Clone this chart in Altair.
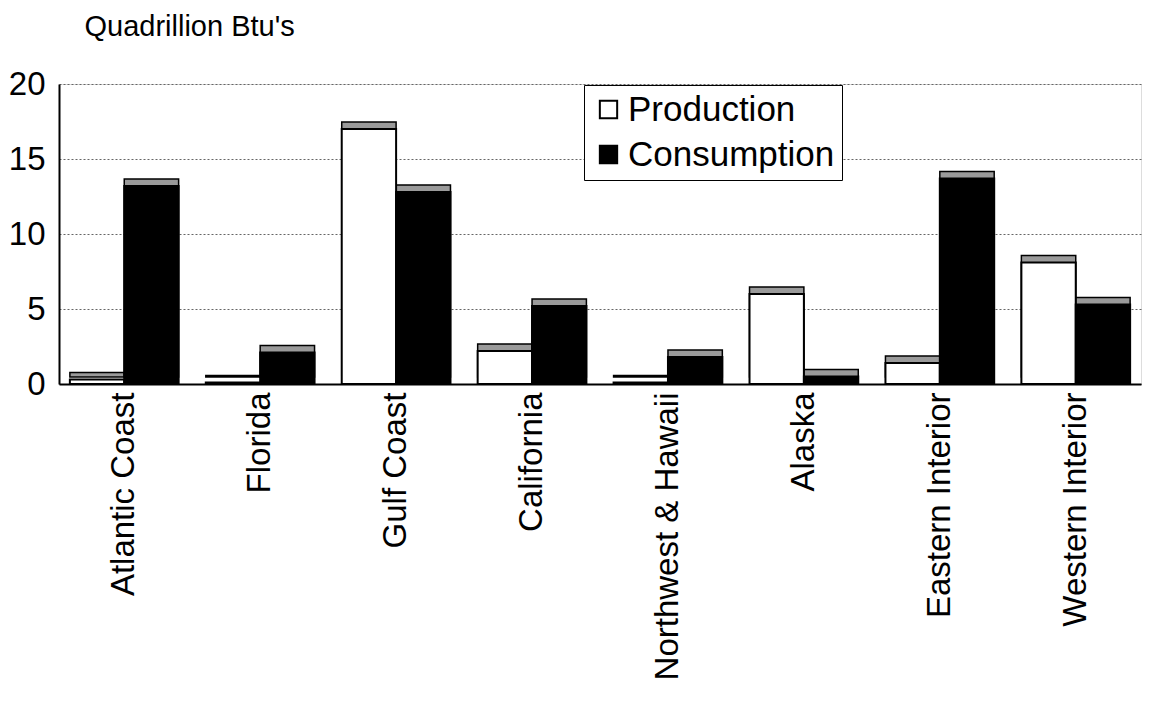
import altair as alt
import pandas as pd

regions = ["Atlantic Coast", "Florida", "Gulf Coast", "California",
           "Northwest & Hawaii", "Alaska", "Eastern Interior", "Western Interior"]
production = [0.3, 0.1, 17.0, 2.2, 0.1, 6.0, 1.4, 8.1]
consumption = [13.2, 2.1, 12.8, 5.2, 1.8, 0.5, 13.7, 5.3]
series = ["Production", "Consumption"]

rows = []
for r, p, c in zip(regions, production, consumption):
    rows.append({"Region": r, "Series": "Production", "Value": p})
    rows.append({"Region": r, "Series": "Consumption", "Value": c})
df = pd.DataFrame(rows)

FONT = "Liberation Sans"

x_enc = alt.X("Region:N", sort=regions,
              scale=alt.Scale(paddingInner=0.2, paddingOuter=0.08),
              axis=alt.Axis(title=None, labelAngle=-90, labelFontSize=33,
                            labelFont=FONT, labelColor="black", ticks=False,
                            labelLimit=0, domainColor="black", domainWidth=2,
                            labelPadding=8))
xo_enc = alt.XOffset("Series:N", sort=series)
y_enc = alt.Y("Value:Q", scale=alt.Scale(domain=[0, 20]),
              axis=alt.Axis(values=[0, 5, 10, 15, 20], title="Quadrillion Btu's",
                            titleAngle=0, titleX=25, titleY=-58, titleAlign="left",
                            titleBaseline="middle", titleLimit=0,
                            titleFont=FONT, titleFontSize=29, titleFontWeight="normal",
                            titleColor="black", labelFont=FONT, labelFontSize=33,
                            labelColor="black", ticks=False, labelPadding=14,
                            domainColor="black", domainWidth=2,
                            gridColor="#666666", gridDash=[2, 2], gridWidth=1))

depth = alt.Chart(df).mark_bar(fill="#9a9a9a", stroke="black", strokeWidth=1.5,
                               yOffset=-7).encode(
    x=x_enc, xOffset=xo_enc, y=y_enc)

bars = alt.Chart(df).mark_bar(stroke="black", strokeWidth=2).encode(
    x=x_enc, xOffset=xo_enc, y=y_enc,
    color=alt.Color("Series:N", sort=series,
                    scale=alt.Scale(domain=series, range=["white", "black"]),
                    legend=alt.Legend(title=None, orient="none", legendX=525, legendY=1,
                                      labelFont=FONT, labelFontSize=35, labelColor="black",
                                      labelLimit=0,
                                      symbolType="square", symbolSize=300,
                                      symbolStrokeColor="black", symbolStrokeWidth=2,
                                      strokeColor="black", fillColor="white",
                                      padding=7, rowPadding=9, labelOffset=2)),
)

chart = alt.layer(depth, bars).properties(
    width=1082, height=300,
    padding={"left": 0, "top": 4, "right": 5, "bottom": 5}
).configure_view(stroke="black", strokeWidth=2).configure(background="white")

chart.save("out.html", embed_options={"renderer": "svg", "actions": False})
